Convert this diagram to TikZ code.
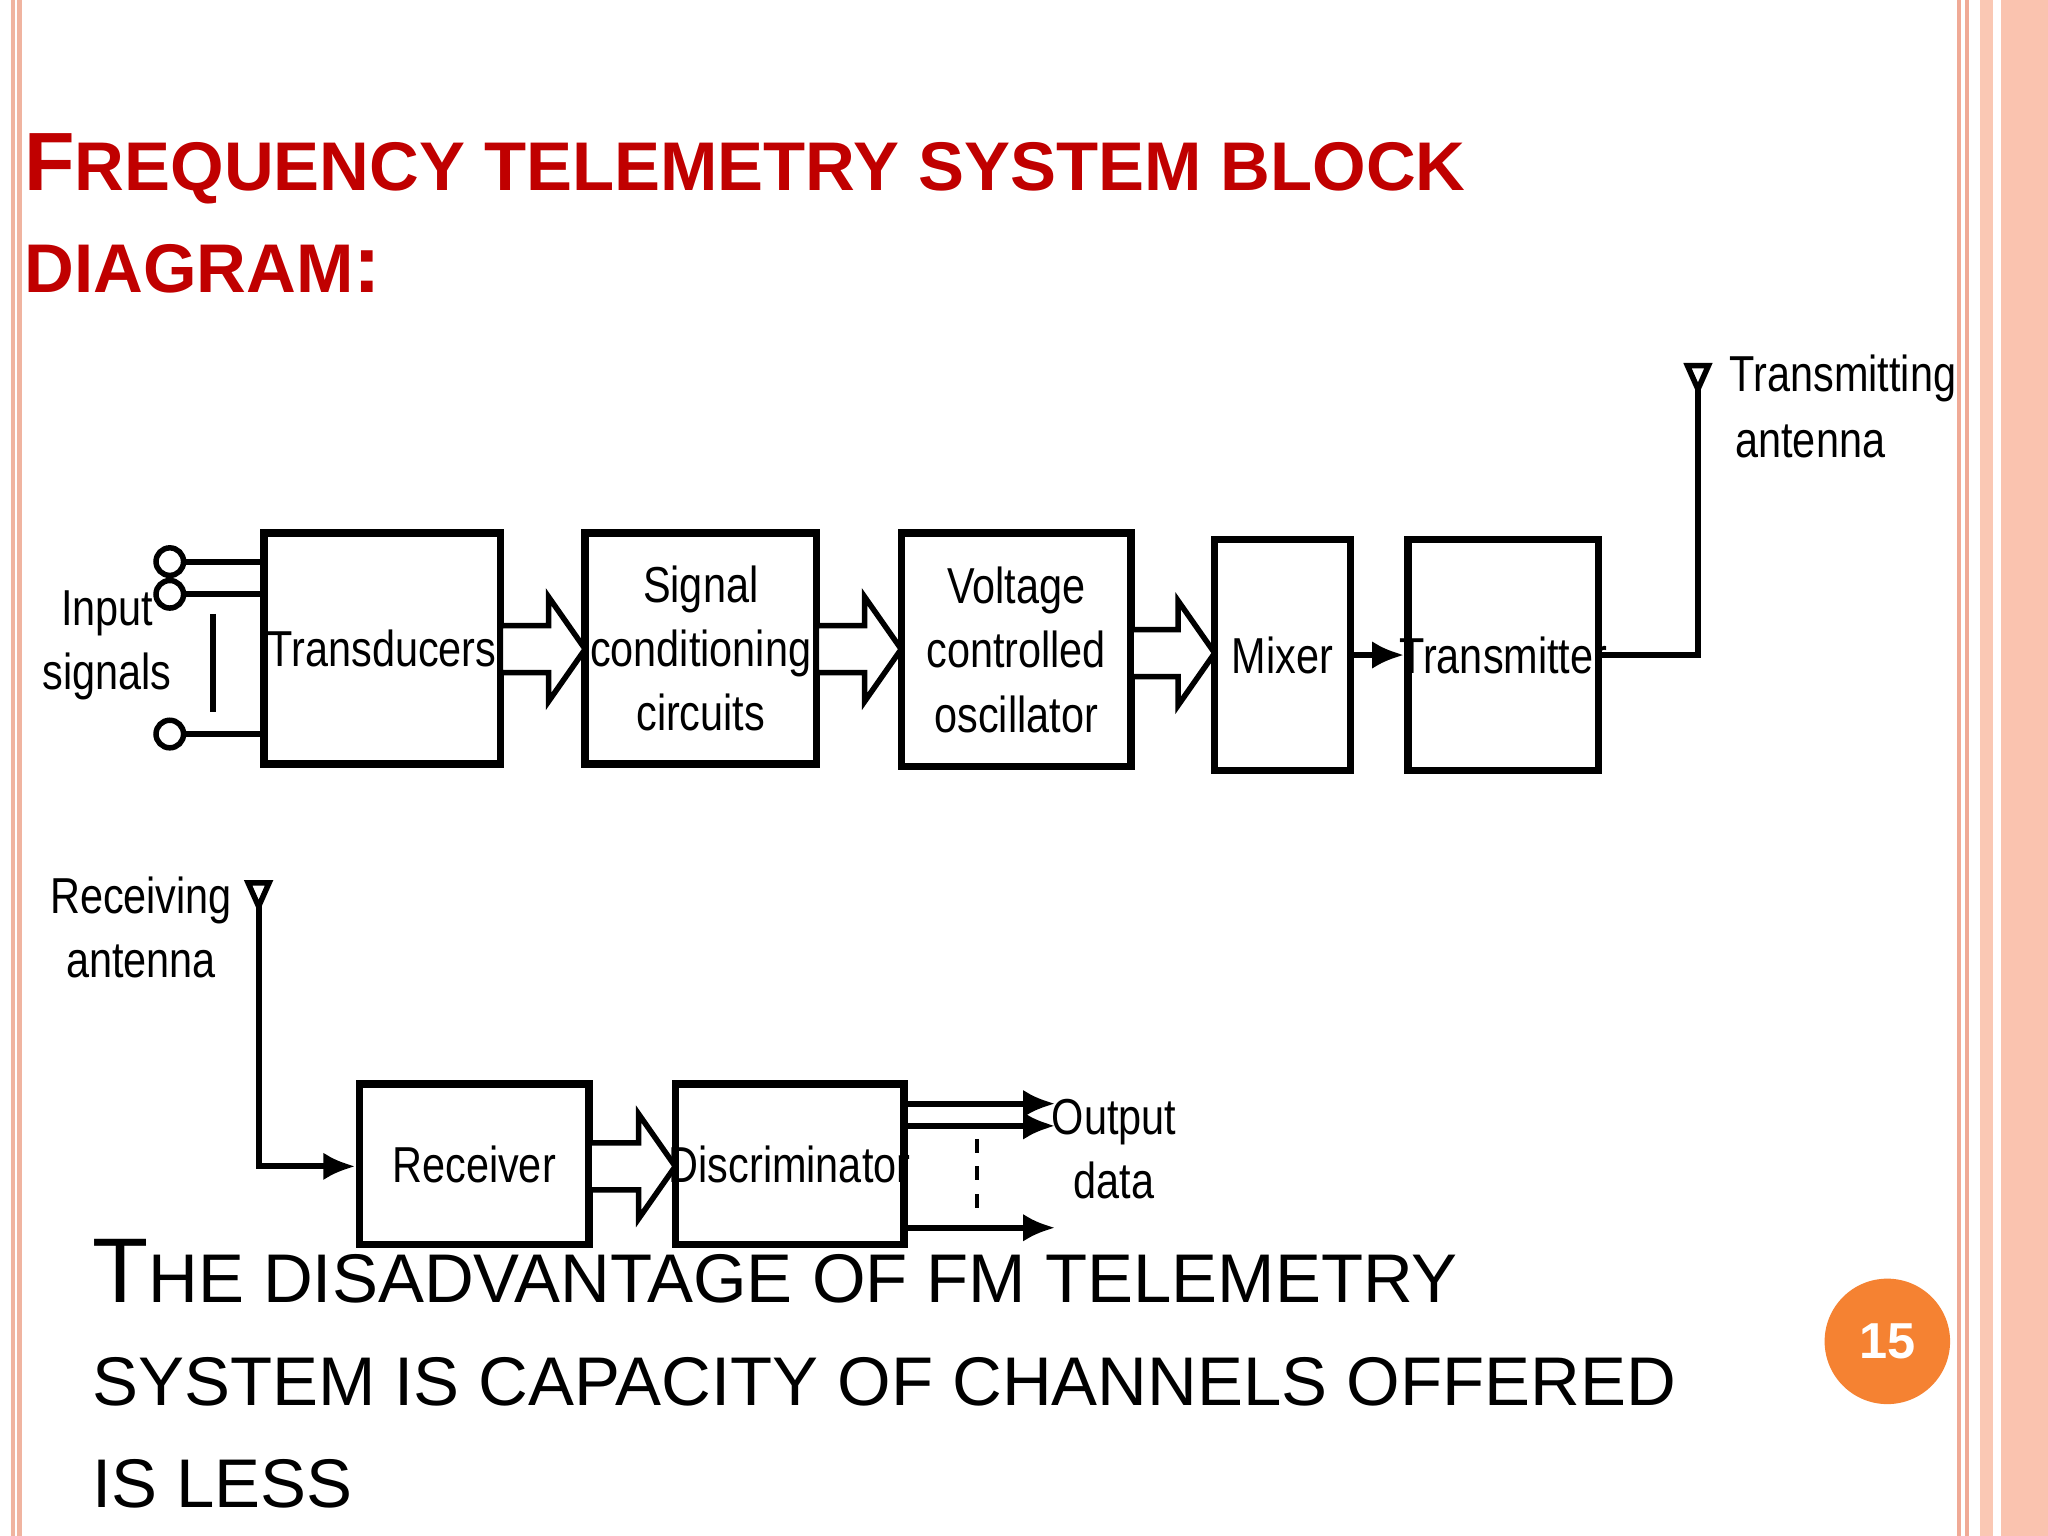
\documentclass[tikz,border=0pt]{standalone}
\usepackage{fontspec}
\setmainfont{Liberation Sans}
\newfontfamily\condf[FakeStretch=0.82]{Liberation Sans}
\usetikzlibrary{arrows.meta,fit}
\begin{document}
\begin{tikzpicture}[x=0.01cm,y=-0.01cm,
 blk/.style={draw,line width=1.6pt,inner sep=0pt},
 lbl/.style={font=\condf\fontsize{11}{14}\selectfont,align=center},
 fat/.style={draw,line width=1.2pt,fill=white},
 ln/.style={line width=1.3pt},
 arr/.style={ln,-{Latex[length=7pt,width=6pt]}},
 ant/.style={draw,line width=1.2pt,fill=white}]
\useasboundingbox (0,0) rectangle (1568,1176);
\fill[white] (0,0) rectangle (1568,1176);
% borders
\draw[color={rgb,255:red,240;green,180;blue,160},line width=1pt] (10,0)--(10,1176) (15,0)--(15,1176);
\draw[color={rgb,255:red,240;green,170;blue,150},line width=1pt] (1500,0)--(1500,1176) (1506,0)--(1506,1176);
\fill[color={rgb,255:red,250;green,200;blue,180}] (1516,0) rectangle (1526,1176);
\fill[color={rgb,255:red,250;green,195;blue,175}] (1532,0) rectangle (1568,1176);
% title
\definecolor{tred}{RGB}{192,0,0}
\node[anchor=base west,text=tred,font=\bfseries,inner sep=0pt] (t1) at (18,146) {{\fontsize{18}{18}\selectfont F}{\fontsize{15}{15}\selectfont REQUENCY TELEMETRY SYSTEM BLOCK}};
\node[anchor=base west,text=tred,font=\bfseries,inner sep=0pt] (t2) at (18,224) {{\fontsize{15}{15}\selectfont DIAGRAM}{\fontsize{18}{18}\selectfont :}};
% blocks
\node[blk,fit={(202,408)(383,585)}] (tr) {};
\node[lbl] at (tr) {Transducers};
\node[blk,fit={(448,408)(625,585)}] (sc) {};
\node[lbl] at (sc) {Signal\\conditioning\\circuits};
\node[blk,fit={(690,408)(866,587)}] (vco) {};
\node[lbl] at (vco) {Voltage\\controlled\\oscillator};
\node[blk,fit={(930,413)(1034,590)}] (mx) {};
\node[lbl] at (mx) {Mixer};
\node[blk,fit={(1078,413)(1224,590)}] (tx) {};
\node[lbl] at (tx) {Transmitter};
\node[blk,fit={(275,830)(451,953)}] (rx) {};
\node[lbl] at (rx) {Receiver};
\node[blk,fit={(517,830)(692,953)}] (dc) {};
\node[lbl] at (dc) {Discriminator};
% hollow arrows
\foreach \a/\b/\y in {383/448/497, 625/690/497, 866/930/500, 451/517/893}{
 \draw[fat] (\a,\y-18)--(\b-28,\y-18)--(\b-28,\y-40)--(\b,\y)--(\b-28,\y+40)--(\b-28,\y+18)--(\a,\y+18)--cycle;}
\draw[arr] (mx.east) -- (tx.west);
% transmit antenna
\coordinate (ta) at (1300,292);
\draw[ln] (tx.east) -- (tx.east-|ta) -- (ta);
\draw[ant] (1292,280)--(1308,280)--(1300,298)--cycle;
\node[lbl,anchor=west] (tal) at (1312,290) {Transmitting};
\node[lbl] (tal2) at (1386,338) {antenna};
% inputs
\foreach \y/\n in {430/i1,455/i2,562/i3}{
 \node[draw,circle,line width=1.2pt,minimum size=6pt,inner sep=0pt] (\n) at (130,\y) {};
 \draw[ln] (\n) -- (tr.west|-\n);}
\draw[ln] (163,470)--(163,545);
\node[lbl] (inl) at (82,494) {Input\\signals};
% receive antenna
\draw[ant] (190,676)--(206,676)--(198,694)--cycle;
\coordinate (ra) at (198,694);
\coordinate (rc) at (198,893);
\draw[arr] (ra) -- (rc) -- (rx.west|-rc);
\node[lbl] (ral) at (108,710) {Receiving\\antenna};
% outputs
\coordinate (o1) at (808,845);
\coordinate (o2) at (808,862);
\coordinate (o3) at (808,940);
\draw[arr] (dc.east|-o1) -- (o1);
\draw[arr] (dc.east|-o2) -- (o2);
\draw[arr] (dc.east|-o3) -- (o3);
\draw[line width=1pt,dash pattern=on 3pt off 3pt] (748,872)--(748,928);
\node[lbl] (ol) at (853,880) {Output\\data};
% bottom text
\node[anchor=base west,inner sep=0pt,align=left] (bt) at (70,997) {{\fontsize{20}{20}\selectfont T}{\fontsize{15}{15}\selectfont HE DISADVANTAGE OF FM TELEMETRY}};
\node[anchor=base west,inner sep=0pt] (bt2) at (70,1076) {\fontsize{15}{15}\selectfont SYSTEM IS CAPACITY OF CHANNELS OFFERED};
\node[anchor=base west,inner sep=0pt] (bt3) at (70,1154) {\fontsize{15}{15}\selectfont IS LESS};
% page number
\node[circle,fill={rgb,255:red,245;green,130;blue,50},minimum size=96*0.1mm,text=white,font=\bfseries\fontsize{11}{11}\selectfont] (pn) at (1445,1027) {15};
\end{tikzpicture}
\end{document}
